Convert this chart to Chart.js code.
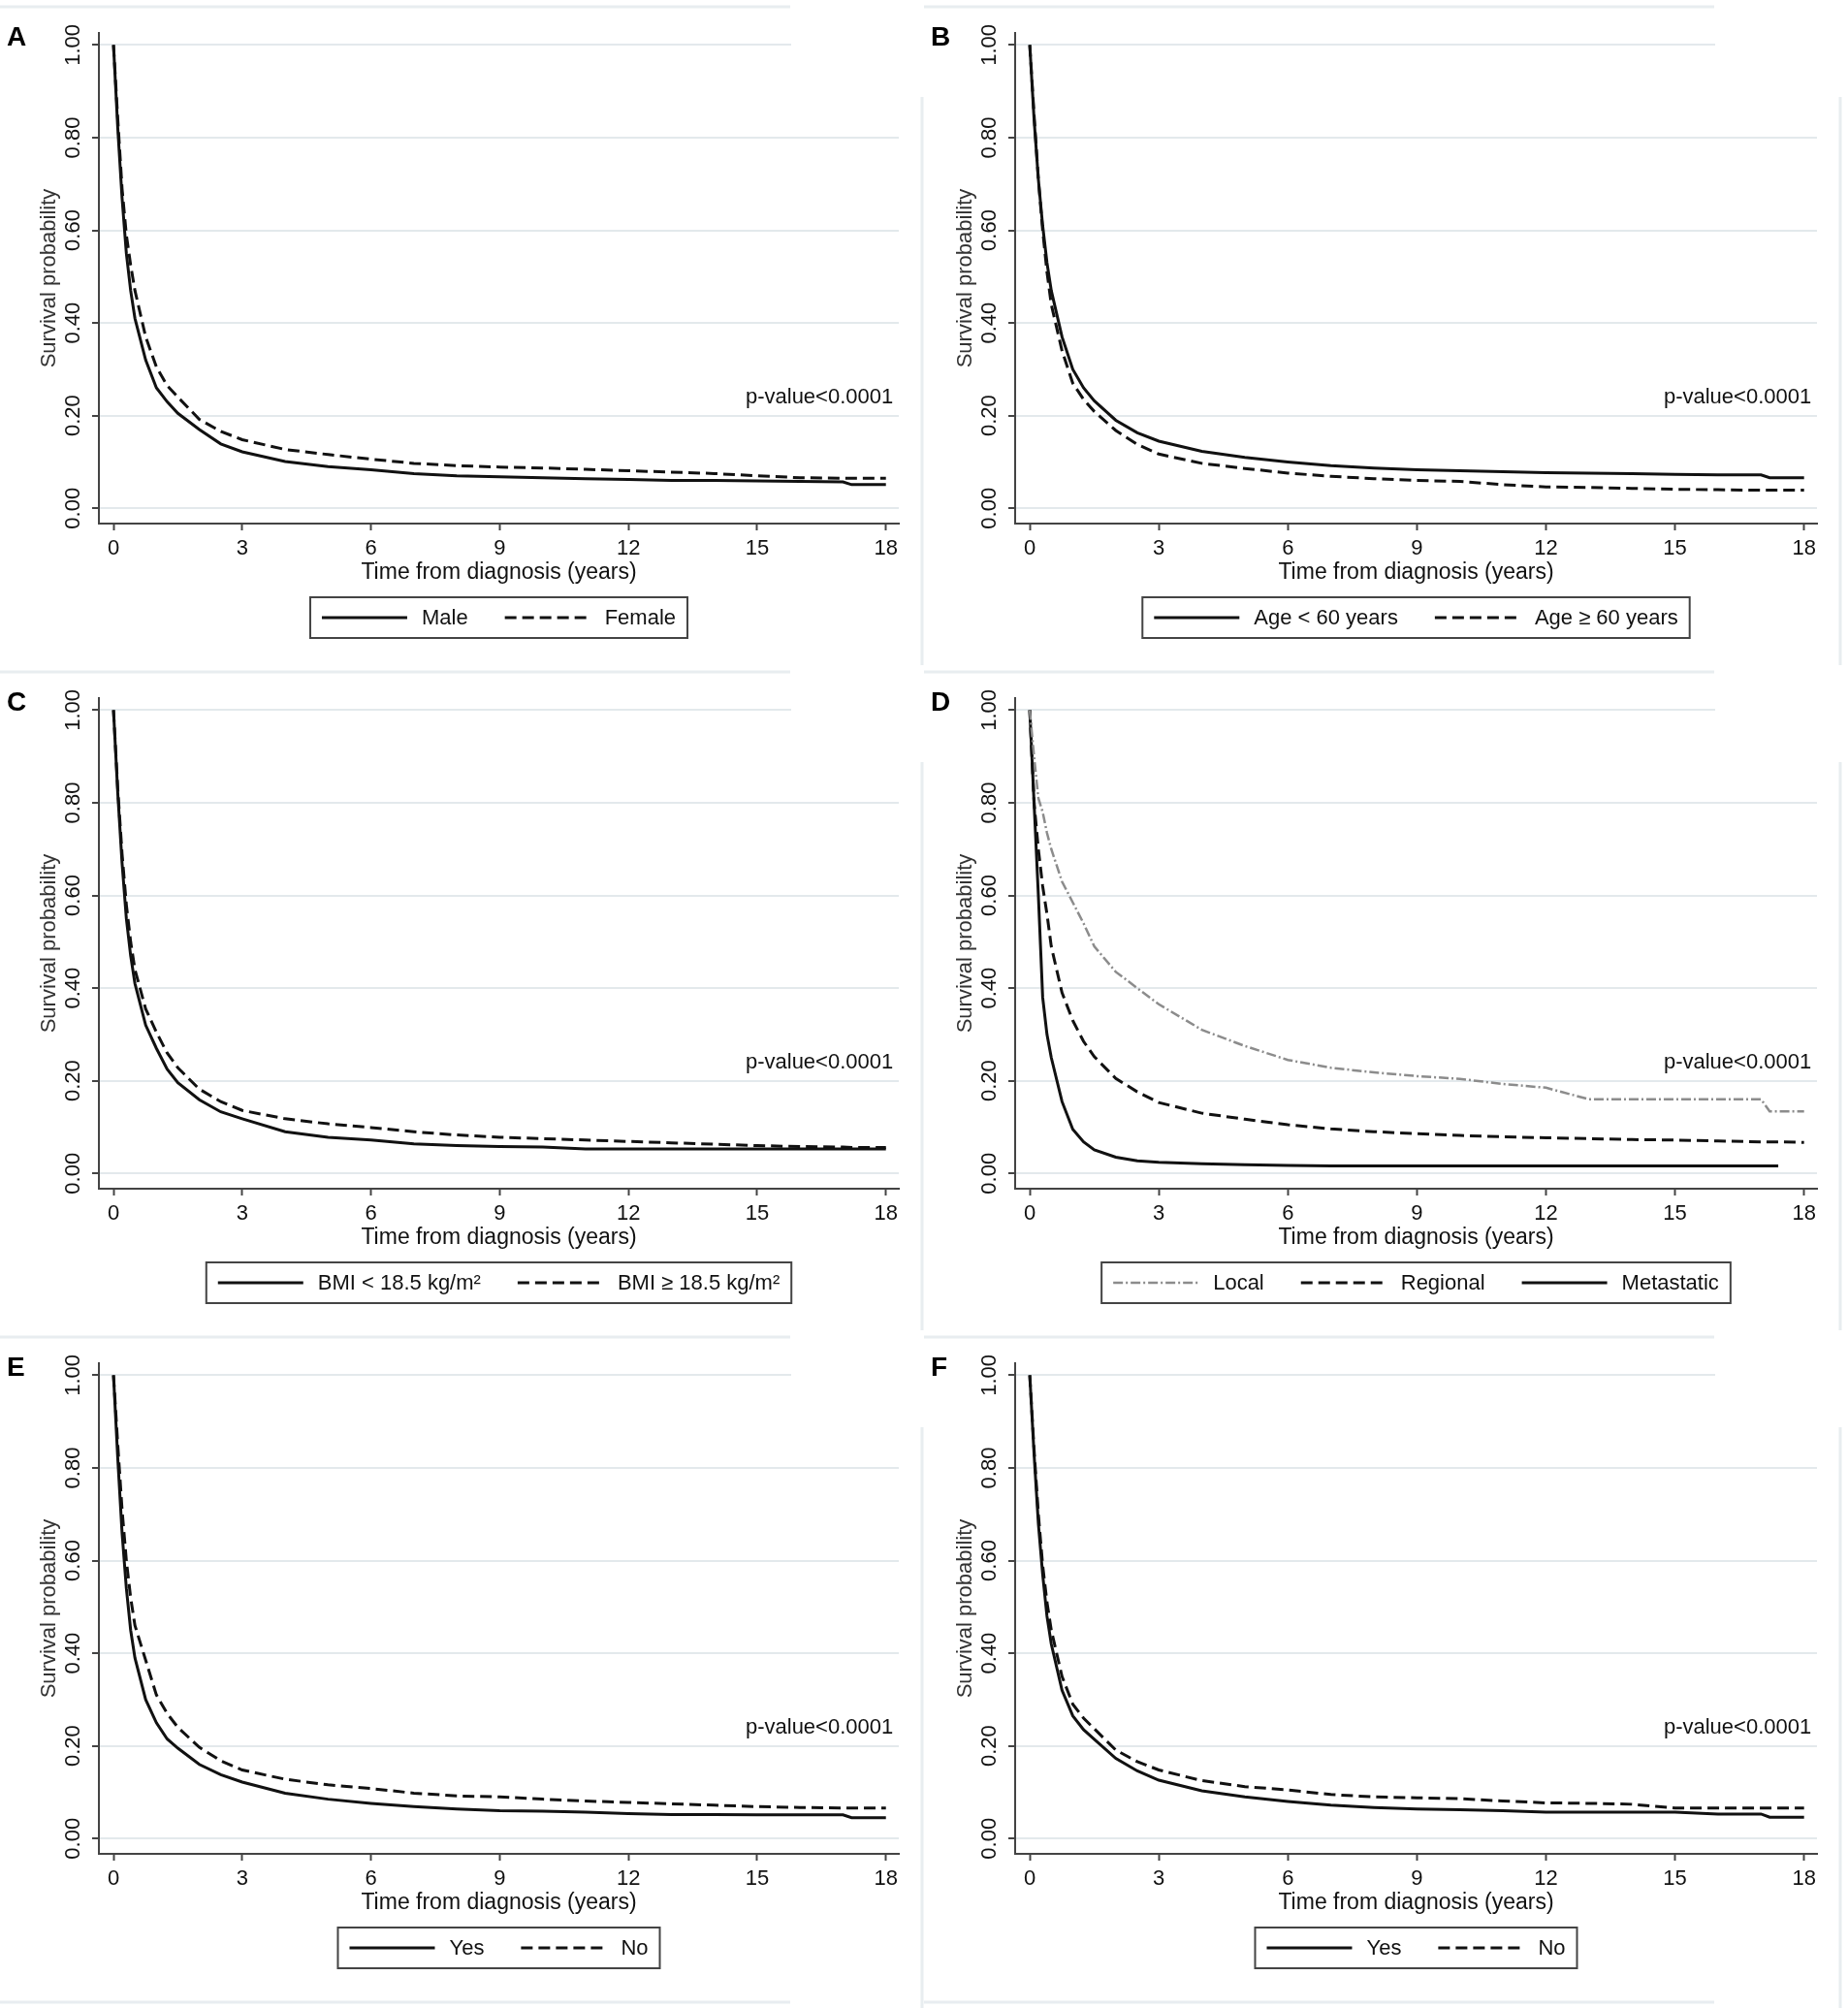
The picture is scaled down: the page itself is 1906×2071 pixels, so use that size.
<!DOCTYPE html>
<html>
<head>
<meta charset="utf-8">
<script src="https://cdn.jsdelivr.net/npm/chart.js@4.4.1/dist/chart.umd.min.js"></script>
<style>
    html, body { margin: 0; padding: 0; background: #fff; }
    body { width: 1906px; height: 2071px; position: relative; overflow: hidden; }
    canvas { position: absolute; }
</style>
</head>
<body>
<canvas id="panelA" width="953" height="699" style="left:0px;top:0px"></canvas>
<canvas id="panelB" width="953" height="699" style="left:953px;top:0px"></canvas>
<canvas id="panelC" width="953" height="699" style="left:0px;top:686px"></canvas>
<canvas id="panelD" width="953" height="699" style="left:953px;top:686px"></canvas>
<canvas id="panelE" width="953" height="699" style="left:0px;top:1372px"></canvas>
<canvas id="panelF" width="953" height="699" style="left:953px;top:1372px"></canvas>
<script>
// Tiempos (años) y ticks de los ejes
const timeYears = [0, 0.1, 0.2, 0.3, 0.4, 0.5, 0.75, 1, 1.25, 1.5, 2, 2.5, 3, 4, 5, 6, 7, 8, 9, 10, 11, 12, 13, 14, 15, 16, 17, 17.2, 17.4, 18];
const xTickValues = [0, 3, 6, 9, 12, 15, 18];
const yTickValues = [0, 0.2, 0.4, 0.6, 0.8, 1];

// A: sexo
const maleSurv   = [1, 0.82, 0.67, 0.55, 0.47, 0.41, 0.32, 0.26, 0.23, 0.205, 0.17, 0.139, 0.122, 0.101, 0.09, 0.083, 0.075, 0.07, 0.068, 0.066, 0.064, 0.062, 0.06, 0.06, 0.059, 0.058, 0.057, 0.051, 0.051, 0.051];
const femaleSurv = [1, 0.84, 0.69, 0.59, 0.525, 0.47, 0.37, 0.305, 0.265, 0.24, 0.192, 0.166, 0.148, 0.127, 0.116, 0.106, 0.097, 0.092, 0.089, 0.087, 0.084, 0.081, 0.078, 0.075, 0.07, 0.066, 0.065, 0.065, 0.065, 0.065];

// B: edad
const ageUnder60Surv = [1, 0.84, 0.71, 0.61, 0.53, 0.47, 0.37, 0.30, 0.26, 0.232, 0.19, 0.163, 0.145, 0.123, 0.11, 0.1, 0.092, 0.087, 0.083, 0.081, 0.079, 0.077, 0.076, 0.075, 0.073, 0.072, 0.072, 0.066, 0.066, 0.066];
const age60PlusSurv  = [1, 0.85, 0.71, 0.60, 0.51, 0.44, 0.34, 0.27, 0.235, 0.209, 0.168, 0.138, 0.117, 0.097, 0.086, 0.076, 0.069, 0.064, 0.06, 0.058, 0.051, 0.046, 0.045, 0.043, 0.041, 0.04, 0.039, 0.039, 0.039, 0.039];

// C: IMC
const bmiLowSurv  = [1, 0.82, 0.67, 0.55, 0.47, 0.41, 0.32, 0.27, 0.225, 0.196, 0.159, 0.133, 0.118, 0.09, 0.078, 0.072, 0.064, 0.06, 0.058, 0.057, 0.053, 0.053, 0.053, 0.053, 0.053, 0.053, 0.053, 0.053, 0.053, 0.053];
const bmiHighSurv = [1, 0.83, 0.69, 0.58, 0.50, 0.44, 0.355, 0.305, 0.26, 0.228, 0.182, 0.155, 0.136, 0.118, 0.107, 0.099, 0.09, 0.083, 0.078, 0.075, 0.072, 0.069, 0.066, 0.063, 0.06, 0.058, 0.057, 0.056, 0.056, 0.056];

// D: estadio
const localSurv      = [1, 0.9, 0.81, 0.78, 0.735, 0.70, 0.63, 0.585, 0.54, 0.49, 0.435, 0.40, 0.365, 0.31, 0.275, 0.245, 0.228, 0.218, 0.21, 0.204, 0.193, 0.185, 0.16, 0.16, 0.16, 0.16, 0.16, 0.134, 0.134, 0.134];
const regionalSurv   = [1, 0.80, 0.70, 0.62, 0.56, 0.49, 0.39, 0.33, 0.285, 0.252, 0.205, 0.176, 0.153, 0.13, 0.117, 0.105, 0.096, 0.09, 0.086, 0.082, 0.079, 0.077, 0.075, 0.073, 0.072, 0.07, 0.068, 0.068, 0.068, 0.067];
const metastaticSurv = [1, 0.80, 0.60, 0.38, 0.30, 0.25, 0.155, 0.095, 0.068, 0.051, 0.035, 0.027, 0.024, 0.021, 0.019, 0.017, 0.016, 0.016, 0.016, 0.016, 0.016, 0.016, 0.016, 0.016, 0.016, 0.016, 0.016, 0.016, 0.016, null];

// E y F: sí / no
const eYesSurv = [1, 0.82, 0.66, 0.54, 0.45, 0.39, 0.30, 0.25, 0.215, 0.195, 0.16, 0.138, 0.122, 0.098, 0.085, 0.076, 0.069, 0.064, 0.06, 0.059, 0.057, 0.054, 0.052, 0.052, 0.051, 0.051, 0.051, 0.045, 0.045, 0.045];
const eNoSurv  = [1, 0.85, 0.71, 0.60, 0.52, 0.46, 0.385, 0.31, 0.27, 0.24, 0.197, 0.168, 0.148, 0.128, 0.116, 0.108, 0.098, 0.092, 0.09, 0.085, 0.081, 0.078, 0.075, 0.072, 0.069, 0.067, 0.066, 0.066, 0.066, 0.066];
const fYesSurv = [1, 0.83, 0.68, 0.57, 0.48, 0.42, 0.32, 0.265, 0.235, 0.214, 0.173, 0.146, 0.126, 0.103, 0.09, 0.08, 0.072, 0.067, 0.064, 0.062, 0.06, 0.057, 0.057, 0.057, 0.057, 0.053, 0.053, 0.046, 0.046, 0.046];
const fNoSurv  = [1, 0.84, 0.70, 0.59, 0.51, 0.45, 0.35, 0.29, 0.26, 0.237, 0.191, 0.166, 0.148, 0.125, 0.112, 0.105, 0.095, 0.09, 0.088, 0.086, 0.081, 0.077, 0.076, 0.074, 0.066, 0.066, 0.066, 0.066, 0.066, 0.066];

const FONT = '"Liberation Sans", Arial, sans-serif';
Chart.defaults.font.family = FONT;

// Estilos de línea
const solidStyle  = { color: '#111', width: 3, dash: [] };
const dashedStyle = { color: '#111', width: 3, dash: [12, 6] };
const localStyle  = { color: '#8c8c8c', width: 2.5, dash: [10, 3, 2, 3] };

// Decoración: fondo, separadores, letra, p-valor y leyenda con marco
const panelDeco = {
    id: 'panelDeco',
    beforeDraw(chart, args, opts) {
        const ctx = chart.ctx;
        ctx.save();
        ctx.fillStyle = '#fff';
        ctx.fillRect(0, 0, chart.width, chart.height);
        ctx.strokeStyle = '#e8edf0';
        ctx.lineWidth = 3;
        ctx.beginPath();
        ctx.moveTo(0, 7); ctx.lineTo(815, 7);
        ctx.moveTo(0, 693); ctx.lineTo(815, 693);
        ctx.stroke();
        ctx.restore();
    },
    beforeDatasetsDraw(chart, args, opts) {
        const ctx = chart.ctx;
        ctx.save();
        ctx.fillStyle = '#fff';
        ctx.fillRect(816, 0, chart.width - 816, 100);
        ctx.strokeStyle = '#e8edf0';
        ctx.lineWidth = 3;
        const vx = opts.col === 0 ? 951 : 945;
        ctx.beginPath();
        ctx.moveTo(vx, 100); ctx.lineTo(vx, chart.height);
        ctx.stroke();
        ctx.restore();
    },
    afterDraw(chart, args, opts) {
        const ctx = chart.ctx;
        const xs = chart.scales.x, ys = chart.scales.y;
        ctx.save();
        // letra del panel
        ctx.fillStyle = '#000';
        ctx.font = 'bold 28px ' + FONT;
        ctx.textAlign = 'left';
        ctx.textBaseline = 'alphabetic';
        ctx.fillText(opts.letter, 7, 47);
        // p-valor
        ctx.font = '22px ' + FONT;
        ctx.fillStyle = '#111';
        ctx.textAlign = 'right';
        ctx.textBaseline = 'middle';
        ctx.fillText('p-value<0.0001', xs.getPixelForValue(18.17), ys.getPixelForValue(0.24));
        // leyenda
        const pad = 12, lineLen = 88, gap = 15, sep = 38, top = 616, h = 42;
        const items = chart.data.datasets.map(ds => ({ ds, w: ctx.measureText(ds.label).width }));
        let total = pad * 2 + sep * (items.length - 1);
        items.forEach(it => { total += lineLen + gap + it.w; });
        const cx = (chart.chartArea.left + chart.chartArea.right) / 2;
        let x = cx - total / 2;
        ctx.fillStyle = '#fff';
        ctx.fillRect(x, top, total, h);
        ctx.strokeStyle = '#444';
        ctx.lineWidth = 2;
        ctx.strokeRect(x, top, total, h);
        const cy = top + h / 2;
        x += pad;
        items.forEach(it => {
            ctx.beginPath();
            ctx.strokeStyle = it.ds.borderColor;
            ctx.lineWidth = it.ds.borderWidth;
            ctx.setLineDash(it.ds.borderDash || []);
            ctx.moveTo(x, cy); ctx.lineTo(x + lineLen, cy);
            ctx.stroke();
            ctx.setLineDash([]);
            x += lineLen + gap;
            ctx.fillStyle = '#111';
            ctx.textAlign = 'left';
            ctx.fillText(it.ds.label, x, cy + 1);
            x += it.w + sep;
        });
        ctx.restore();
    }
};

function makePanel(id, letter, col, series) {
    const L = col === 0 ? 102 : 94;
    const R = col === 0 ? 927 : 921;
    const ctx = document.getElementById(id).getContext('2d');
    new Chart(ctx, {
        type: 'line',
        data: {
            datasets: series.map(s => ({
                label: s.label,
                data: timeYears.map((t, i) => ({ x: t, y: s.values[i] })),
                borderColor: s.style.color,
                borderWidth: s.style.width,
                borderDash: s.style.dash,
                pointRadius: 0,
                fill: false,
                tension: 0,
                spanGaps: false
            }))
        },
        options: {
            responsive: false,
            animation: false,
            devicePixelRatio: 1,
            layout: { padding: { left: L - 64, right: 953 - R, top: 34, bottom: 699 - 540 - 64 } },
            plugins: {
                legend: { display: false },
                tooltip: { enabled: false },
                panelDeco: { letter: letter, col: col }
            },
            scales: {
                x: {
                    type: 'linear',
                    min: -0.34,
                    max: 18.3,
                    afterBuildTicks: s => { s.ticks = xTickValues.map(v => ({ value: v })); },
                    afterFit: s => { s.height = 64; },
                    grid: { drawOnChartArea: false, tickLength: 7, tickWidth: 2, tickColor: '#444' },
                    border: { color: '#444', width: 2 },
                    ticks: { font: { size: 22 }, color: '#111', padding: 6, maxRotation: 0, callback: v => String(v) },
                    title: { display: true, text: 'Time from diagnosis (years)', font: { size: 23 }, color: '#111', padding: 0 }
                },
                y: {
                    min: -0.033,
                    max: 1.026,
                    afterBuildTicks: s => { s.ticks = yTickValues.map(v => ({ value: v })); },
                    afterFit: s => { s.width = 64; },
                    grid: { color: '#e3e9ec', lineWidth: 2, tickLength: 7, tickWidth: 2, tickColor: '#444' },
                    border: { color: '#444', width: 2 },
                    ticks: { font: { size: 22 }, color: '#111', padding: -2, minRotation: 90, maxRotation: 90, crossAlign: 'center', callback: v => v.toFixed(2) },
                    title: { display: true, text: 'Survival probability', font: { size: 22 }, color: '#333', padding: 0 }
                }
            }
        },
        plugins: [panelDeco]
    });
}

makePanel('panelA', 'A', 0, [
    { label: 'Male', values: maleSurv, style: solidStyle },
    { label: 'Female', values: femaleSurv, style: dashedStyle }
]);
makePanel('panelB', 'B', 1, [
    { label: 'Age < 60 years', values: ageUnder60Surv, style: solidStyle },
    { label: 'Age \u2265 60 years', values: age60PlusSurv, style: dashedStyle }
]);
makePanel('panelC', 'C', 0, [
    { label: 'BMI < 18.5 kg/m\u00b2', values: bmiLowSurv, style: solidStyle },
    { label: 'BMI \u2265 18.5 kg/m\u00b2', values: bmiHighSurv, style: dashedStyle }
]);
makePanel('panelD', 'D', 1, [
    { label: 'Local', values: localSurv, style: localStyle },
    { label: 'Regional', values: regionalSurv, style: dashedStyle },
    { label: 'Metastatic', values: metastaticSurv, style: solidStyle }
]);
makePanel('panelE', 'E', 0, [
    { label: 'Yes', values: eYesSurv, style: solidStyle },
    { label: 'No', values: eNoSurv, style: dashedStyle }
]);
makePanel('panelF', 'F', 1, [
    { label: 'Yes', values: fYesSurv, style: solidStyle },
    { label: 'No', values: fNoSurv, style: dashedStyle }
]);
</script>
</body>
</html>
